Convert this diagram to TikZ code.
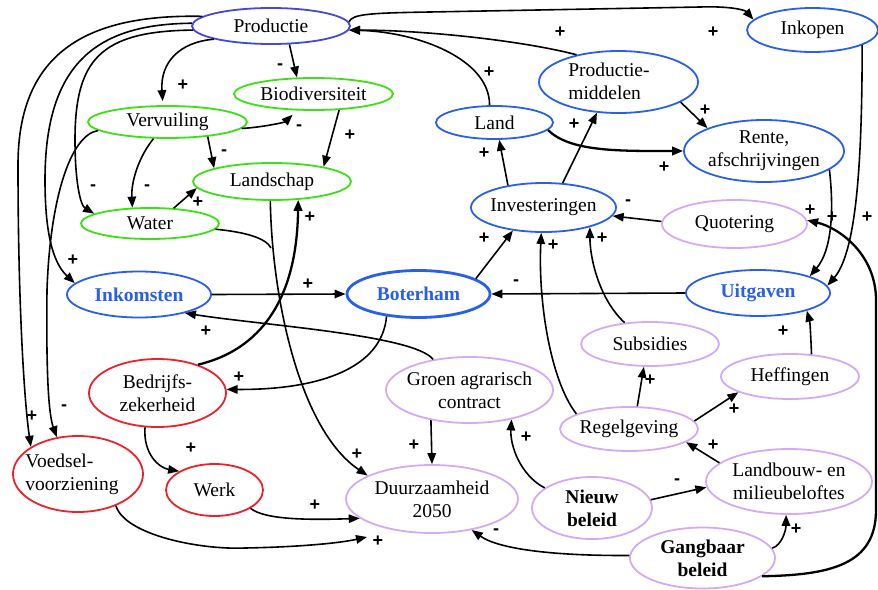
\documentclass[tikz,border=0pt]{standalone}
\usepackage{fontspec}
\setmainfont{Liberation Serif}
\newfontfamily\signfont{Liberation Sans}
\usetikzlibrary{arrows.meta,shapes.geometric,calc}

\definecolor{prodblue}{RGB}{70,70,215}
\definecolor{nodeblue}{RGB}{40,95,235}
\definecolor{nodegreen}{RGB}{60,225,20}
\definecolor{nodered}{RGB}{235,35,45}
\definecolor{nodelilac}{RGB}{212,170,245}

\begin{document}
\begin{tikzpicture}[x=1pt,y=-1pt,
  ell/.style={ellipse, draw, fill=white, line width=1.8pt, inner sep=0pt},
  blueell/.style={ell, draw=nodeblue},
  greenell/.style={ell, draw=nodegreen},
  redell/.style={ell, draw=nodered},
  lilacell/.style={ell, draw=nodelilac},
  txt/.style={font=\fontsize{19.5}{23}\selectfont, align=center, inner sep=0pt},
  btxt/.style={font=\fontsize{19.5}{23}\selectfont\bfseries, align=center, inner sep=0pt},
  bluetxt/.style={btxt, text=nodeblue},
  sgn/.style={font=\signfont\bfseries\fontsize{18}{18}\selectfont, inner sep=0pt},
  link/.style={line width=1.6pt, -{Triangle[length=11pt,width=8.5pt]}},
  heavy/.style={link, line width=2.3pt},
  plain/.style={line width=1.6pt}
]
\useasboundingbox (0,0) rectangle (878,589);

% ---------- factors ----------
\node[ell, draw=prodblue, minimum width=158pt, minimum height=36pt] (prod) at (271,26) {};
\node[txt] (prod-t) at (prod) {Productie};
\node[greenell, minimum width=159pt, minimum height=32pt] (bio) at (313.5,94) {};
\node[txt] (bio-t) at (bio) {Biodiversiteit};
\node[greenell, minimum width=159pt, minimum height=32pt] (verv) at (167.5,122) {};
\node[txt] (verv-t) at (verv) {Vervuiling};
\node[greenell, minimum width=158pt, minimum height=37pt] (lands) at (272,181.5) {};
\node[txt] (lands-t) at (lands) {Landschap};
\node[greenell, minimum width=138pt, minimum height=31pt] (water) at (150,223.5) {};
\node[txt] (water-t) at (water) {Water};

\node[blueell, minimum width=144pt, minimum height=46pt] (inkom) at (139,294.5) {};
\node[bluetxt] (inkom-t) at (inkom) {Inkomsten};
\node[blueell, line width=2.8pt, minimum width=143pt, minimum height=47pt] (boter) at (418.5,294) {};
\node[bluetxt] (boter-t) at (boter) {Boterham};
\node[blueell, minimum width=144pt, minimum height=46pt] (uitg) at (758,293) {};
\node[bluetxt] (uitg-t) at (uitg) {Uitgaven};

\node[redell, minimum width=137pt, minimum height=68pt] (bedr) at (157.5,393) {};
\node[txt] (bedr-t) at (bedr) {Bedrijfs-\\zekerheid};
\node[redell, minimum width=130pt, minimum height=76pt] (voed) at (78,474) {};
\node[txt, align=left] (voed-t) at (72,474) {Voedsel-\\voorziening};
\node[redell, minimum width=97pt, minimum height=52pt] (werk) at (214.5,490) {};
\node[txt] (werk-t) at (werk) {Werk};

\node[lilacell, minimum width=172pt, minimum height=68pt] (duur) at (432,499) {};
\node[txt] (duur-t) at (duur) {Duurzaamheid\\2050};
\node[lilacell, minimum width=167pt, minimum height=66pt] (groen) at (469.5,390) {};
\node[txt] (groen-t) at (groen) {Groen agrarisch\\contract};
\node[lilacell, minimum width=120pt, minimum height=62pt] (nieuw) at (592,508) {};
\node[btxt] (nieuw-t) at (nieuw) {Nieuw\\beleid};
\node[lilacell, minimum width=145pt, minimum height=61pt] (gang) at (702.5,558) {};
\node[btxt] (gang-t) at (gang) {Gangbaar\\beleid};
\node[lilacell, minimum width=166pt, minimum height=65pt] (landb) at (789,481.5) {};
\node[txt] (landb-t) at (landb) {Landbouw- en\\milieubeloftes};
\node[lilacell, minimum width=138pt, minimum height=44pt] (regel) at (629,429) {};
\node[txt] (regel-t) at (regel) {Regelgeving};
\node[lilacell, minimum width=138pt, minimum height=44pt] (subs) at (650,344) {};
\node[txt] (subs-t) at (subs) {Subsidies};
\node[lilacell, minimum width=138pt, minimum height=45pt] (heff) at (790,376.5) {};
\node[txt] (heff-t) at (heff) {Heffingen};
\node[lilacell, minimum width=145pt, minimum height=48pt] (quot) at (734.5,224) {};
\node[txt] (quot-t) at (quot) {Quotering};

\node[blueell, minimum width=145pt, minimum height=49pt] (inv) at (543.5,207.5) {};
\node[txt] (inv-t) at (inv) {Investeringen};
\node[blueell, minimum width=117pt, minimum height=33pt] (landn) at (494.5,122.5) {};
\node[txt] (landn-t) at (landn) {Land};
\node[blueell, minimum width=159pt, minimum height=62pt] (pmid) at (618.5,82) {};
\node[txt, align=left] (pmid-t) at (609,81) {Productie-\\middelen};
\node[blueell, minimum width=160pt, minimum height=62pt] (rente) at (764,151) {};
\node[txt] (rente-t) at (rente) {Rente,\\afschrijvingen};
\node[blueell, minimum width=131pt, minimum height=44pt] (inkop) at (812.5,30) {};
\node[txt] (inkop-t) at (inkop) {Inkopen};

\coordinate (wmerge) at (271,248);

% ---------- influences ----------
\draw[link] (prod.172) .. controls (90,14) and (18,50) .. (18,165) .. controls (18,300) and (24,400) .. (voed.150);
\draw[link] (prod.178) .. controls (100,24) and (45,60) .. (45,180) .. controls (45,230) and (52,262) .. (inkom.170);
\draw[link] (prod.183) .. controls (100,31) and (75,60) .. (75,140) .. controls (75,180) and (80,205) .. (water.170);
\draw[link] (verv.187) .. controls (70,135) and (50,200) .. (47,290) .. controls (46,380) and (49,415) .. (voed.120);
\draw[link, shorten >=4pt] (prod.193) .. controls (180,42) and (160,62) .. (verv.105);
\draw[link] (prod.-45) -- (bio.135);
\draw[link, shorten >=6pt] (verv.-5) .. controls (265,127) and (285,122) .. (bio.-135);
\draw[link] (bio.-32) -- (lands.16);
\draw[link] (verv.-20) -- (lands.167);
\draw[link] (verv.-130) .. controls (140,155) and (131,180) .. (water.138);
\draw[link] (water.33) -- (lands.185);
\draw[plain] (water.-5) .. controls (245,232) and (266,238) .. (wmerge);
\draw[link] (lands.-95) .. controls (272,300) and (300,430) .. (duur.160);
\draw[heavy] (bedr.35) .. controls (260,350) and (297,300) .. (lands.-35);
\draw[link] (inkom.east) -- (boter.west);
\draw[link] (boter.-145) .. controls (382,368) and (320,390) .. (bedr.3);
\draw[link] (groen.140) .. controls (415,335) and (260,325) .. (inkom.-22);
\draw[link] (groen.-142) -- (duur.north);
\draw[link] (bedr.-110) .. controls (143,455) and (160,468) .. (werk.152);
\draw[link] (werk.-27) .. controls (265,520) and (310,520) .. (duur.-165);
\draw[link] (voed.-40) .. controls (125,535) and (200,550) .. (245,548) .. controls (300,547) and (340,543) .. ($(duur.center)+(-65,38)$);
\draw[link] (boter.15) -- (inv.-143);
\draw[link] (inv.148) -- (landn.-75);
\draw[link] (inv.52) -- (pmid.-125);
\draw[link] (landn.106) .. controls (490,60) and (420,32) .. (prod.-3);
\draw[link] (pmid.147) .. controls (520,40) and (420,30) .. (prod.-3);
\draw[link] (prod.3) .. controls (352,14) and (370,13) .. (430,12) -- (700,7) .. controls (730,6) and (745,10) .. (inkop.170);
\draw[heavy] (landn.-8) .. controls (570,152) and (620,151) .. (rente.west);
\draw[link] (pmid.-18) -- (rente.158);
\draw[link] (rente.-16) .. controls (834,210) and (832,250) .. (uitg.18);
\draw[link] (inkop.-17) .. controls (862,150) and (858,250) .. (uitg.6);
\draw[link] (uitg.west) -- (boter.east);
\draw[link] (quot.178) -- (inv.-7);
\draw[heavy] (gang.-17) .. controls (830,575) and (876,565) .. (876,510) -- (876,300) .. controls (876,255) and (840,228) .. (quot.3);
\draw[link] (regel.164) .. controls (550,380) and (538,300) .. (inv.-95);
\draw[link] (subs.140) .. controls (600,300) and (590,260) .. (inv.-23);
\draw[link] (regel.70) -- (subs.-105);
\draw[link] (regel.7) -- (heff.-163);
\draw[link] (heff.46) .. controls (811,340) and (810,322) .. (uitg.-20);
\draw[link] (landb.165) -- (regel.-13);
\draw[link] (nieuw.8) -- (landb.-176);
\draw[link] (nieuw.157) .. controls (520,475) and (510,445) .. (groen.-35);
\draw[link] (gang.178) .. controls (560,556) and (500,550) .. (duur.-38);
\draw[link] (gang.8) .. controls (782,545) and (786,530) .. (landb.-95);

% ---------- signs ----------
\node[sgn] (s1) at (183,85) {+};
\node[sgn] (s2) at (280,67) {-};
\node[sgn] (s3) at (299,128) {-};
\node[sgn] (s4) at (350,135) {+};
\node[sgn] (s5) at (224,153) {-};
\node[sgn] (s6) at (93,188) {-};
\node[sgn] (s7) at (147,188) {-};
\node[sgn] (s8) at (198,202) {+};
\node[sgn] (s9) at (310,217) {+};
\node[sgn] (s10) at (73,260) {+};
\node[sgn] (s11) at (308,284) {+};
\node[sgn] (s12) at (489,72) {+};
\node[sgn] (s13) at (560,32) {+};
\node[sgn] (s14) at (713,32) {+};
\node[sgn] (s15) at (705,110) {+};
\node[sgn] (s16) at (574,124) {+};
\node[sgn] (s17) at (484,153) {+};
\node[sgn] (s18) at (664,167) {+};
\node[sgn] (s19) at (628,203) {-};
\node[sgn] (s20) at (810,210) {+};
\node[sgn] (s21) at (832,217) {+};
\node[sgn] (s22) at (867,217) {+};
\node[sgn] (s23) at (484,238) {+};
\node[sgn] (s24) at (553,245) {+};
\node[sgn] (s25) at (602,238) {+};
\node[sgn] (s26) at (516,283) {-};
\node[sgn] (s27) at (206,331) {+};
\node[sgn] (s28) at (239,377) {+};
\node[sgn] (s29) at (32,416) {+};
\node[sgn] (s30) at (64,408) {-};
\node[sgn] (s31) at (191,448) {+};
\node[sgn] (s32) at (357,454) {+};
\node[sgn] (s33) at (414,445) {+};
\node[sgn] (s34) at (315,505) {+};
\node[sgn] (s35) at (378,541) {+};
\node[sgn] (s36) at (783,331) {+};
\node[sgn] (s37) at (650,380) {+};
\node[sgn] (s38) at (734,409) {+};
\node[sgn] (s39) at (526,437) {+};
\node[sgn] (s40) at (713,445) {+};
\node[sgn] (s41) at (677,482) {-};
\node[sgn] (s42) at (496,532) {-};
\node[sgn] (s43) at (796,529) {+};
\end{tikzpicture}
\end{document}
